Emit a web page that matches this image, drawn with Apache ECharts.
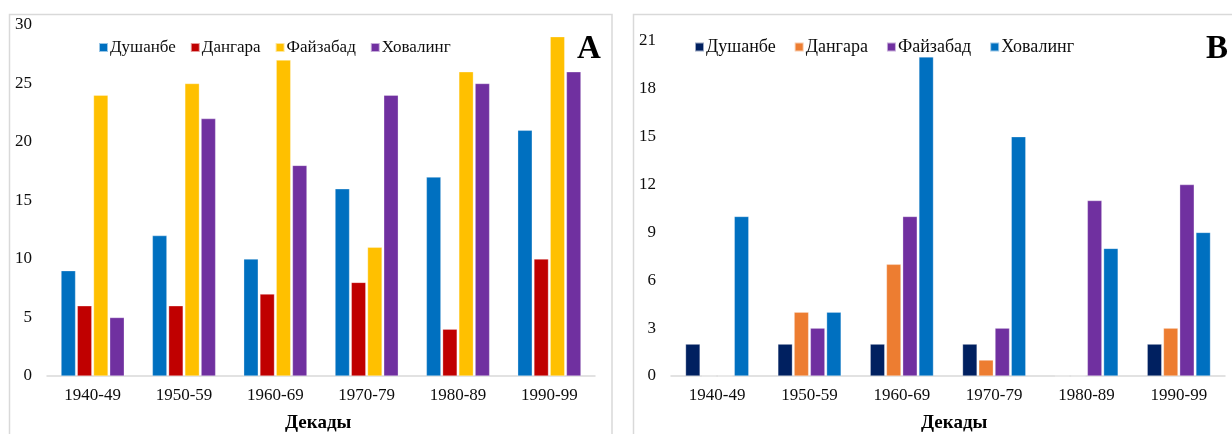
<!DOCTYPE html>
<html>
<head>
<meta charset="utf-8">
<script src="https://cdn.jsdelivr.net/npm/echarts@6/dist/echarts.min.js"></script>
<style>
  html, body { margin: 0; padding: 0; background: #fff; }
  #panelA { position: absolute; left: 0; top: 0; width: 620px; height: 434px; }
  #panelB { position: absolute; left: 620px; top: 0; width: 612px; height: 434px; }
</style>
</head>
<body>
<div id="panelA"></div>
<div id="panelB"></div>
<script>
// Decades on the category axis
const decades = ['1940-49', '1950-59', '1960-69', '1970-79', '1980-89', '1990-99'];
const stations = ['Душанбе', 'Дангара', 'Файзабад', 'Ховалинг'];

// Panel A values
const aDushanbe = [9, 12, 10, 16, 17, 21];
const aDangara  = [6, 6, 7, 8, 4, 10];
const aFayzabad = [24, 25, 27, 11, 26, 29];
const aKhovaling = [5, 22, 18, 24, 25, 26];

// Panel B values
const bDushanbe = [2, 2, 2, 2, 0, 2];
const bDangara  = [0, 4, 7, 1, 0, 3];
const bFayzabad = [0, 3, 10, 3, 11, 12];
const bKhovaling = [10, 4, 20, 15, 8, 9];

const colorsA = ['#0070C0', '#C00000', '#FFC000', '#7030A0'];
const colorsB = ['#002060', '#ED7D31', '#7030A0', '#0070C0'];

const FONT = '"Liberation Serif", "Times New Roman", serif';
const TEXT = '#0d0d0d';
const GRIDLINE = '#d9d9d9';

function buildOption(cfg) {
  return {
    animation: false,
    textStyle: { fontFamily: FONT, color: TEXT },
    color: cfg.colors,
    graphic: [{
      type: 'rect',
      shape: cfg.frame,
      style: { fill: 'none', stroke: GRIDLINE, lineWidth: 1.5 },
      silent: true
    }],
    title: [
      {
        text: cfg.letter,
        left: cfg.letterLeft, top: cfg.letterTop,
        textStyle: { fontFamily: FONT, fontSize: 33, fontWeight: 'bold', color: '#000' }
      },
      {
        text: 'Декады',
        left: cfg.xTitleLeft, top: 409,
        textStyle: { fontFamily: FONT, fontSize: 19, fontWeight: 'bold', color: '#000' }
      }
    ],
    legend: {
      data: stations,
      left: cfg.legendLeft, top: cfg.legendTop,
      icon: 'rect', itemWidth: 9, itemHeight: 9, itemGap: cfg.legendGap,
      textStyle: { fontFamily: FONT, fontSize: cfg.legendFont, color: TEXT, padding: [0, 0, 0, -3] }
    },
    grid: { left: cfg.gridLeft, right: cfg.gridRight, top: cfg.gridTop, bottom: 58, containLabel: false },
    xAxis: {
      type: 'category',
      data: decades,
      axisLine: { show: true, lineStyle: { color: GRIDLINE, width: 1.5 } },
      axisTick: { show: false },
      axisLabel: { fontFamily: FONT, fontSize: 17, color: TEXT, margin: 11 }
    },
    yAxis: {
      type: 'value',
      min: 0, max: cfg.yMax, interval: cfg.yStep,
      axisLine: { show: false },
      axisTick: { show: false },
      splitLine: { show: false },
      axisLabel: { fontFamily: FONT, fontSize: 17, color: TEXT, margin: 15 }
    },
    series: cfg.values.map((vals, i) => ({
      name: stations[i],
      type: 'bar',
      data: vals,
      barWidth: 14.5,
      barGap: '12%',
      itemStyle: { color: cfg.colors[i], borderColor: 'rgba(255,255,255,0.6)', borderWidth: 0.5 }
    }))
  };
}

const chartA = echarts.init(document.getElementById('panelA'), null, { renderer: 'canvas' });
chartA.setOption(buildOption({
  colors: colorsA,
  values: [aDushanbe, aDangara, aFayzabad, aKhovaling],
  frame: { x: 9.5, y: 14.5, width: 602.5, height: 440 },
  letter: 'A', letterLeft: 572, letterTop: 28,
  xTitleLeft: 280,
  legendLeft: 93, legendTop: 34, legendGap: 14, legendFont: 17,
  gridLeft: 47, gridRight: 25, gridTop: 25,
  yMax: 30, yStep: 5
}));

const chartB = echarts.init(document.getElementById('panelB'), null, { renderer: 'canvas' });
chartB.setOption(buildOption({
  colors: colorsB,
  values: [bDushanbe, bDangara, bFayzabad, bKhovaling],
  frame: { x: 13.5, y: 14.5, width: 640, height: 440 },
  letter: 'B', letterLeft: 581, letterTop: 28,
  xTitleLeft: 296,
  legendLeft: 69, legendTop: 33, legendGap: 18, legendFont: 18,
  gridLeft: 51, gridRight: 7, gridTop: 41,
  yMax: 21, yStep: 3
}));
</script>
</body>
</html>
